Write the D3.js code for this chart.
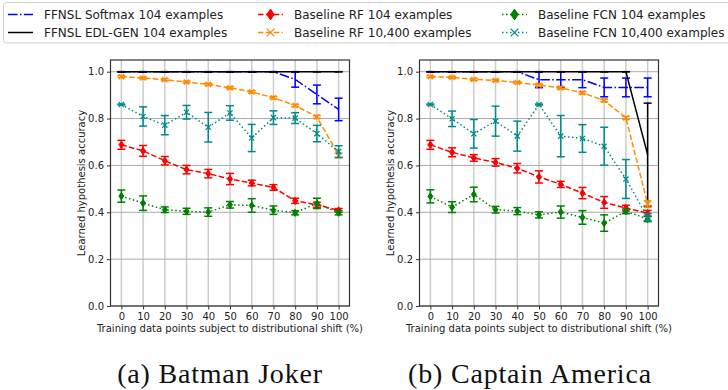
<!DOCTYPE html>
<html>
<head>
<meta charset="utf-8">
<script src="https://cdn.jsdelivr.net/npm/d3@7"></script>
<style>
  html, body { margin: 0; padding: 0; background: #fff; }
  svg { display: block; }
</style>
</head>
<body>
<svg id="chart" width="728" height="390"></svg>
<script>
// Percentage of training points affected by distributional shift
const shiftPct = [0, 10, 20, 30, 40, 50, 60, 70, 80, 90, 100];
const yTickValues = [0, 0.2, 0.4, 0.6, 0.8, 1.0];
const panelTitles = ["(a) Batman Joker", "(b) Captain America"];
const seriesNames = [
  "FFNSL Softmax 104 examples",
  "FFNSL EDL-GEN 104 examples",
  "Baseline RF 104 examples",
  "Baseline RF 10,400 examples",
  "Baseline FCN 104 examples",
  "Baseline FCN 10,400 examples"
];

// Batman Joker: mean accuracy and error per shift level
const batmanSoftmax    = [1.0, 1.0, 1.0, 1.0, 1.0, 1.0, 1.0, 1.0, 0.967, 0.903, 0.839];
const batmanSoftmaxErr = [0, 0, 0, 0, 0, 0, 0, 0, 0.033, 0.040, 0.048];
const batmanEdl        = [1.0, 1.0, 1.0, 1.0, 1.0, 1.0, 1.0, 1.0, 1.0, 1.0, 1.0];
const batmanEdlErr     = [0, 0, 0, 0, 0, 0, 0, 0, 0, 0, 0];
const batmanRf104      = [0.688, 0.662, 0.620, 0.582, 0.565, 0.542, 0.525, 0.506, 0.449, 0.432, 0.408];
const batmanRf104Err   = [0.019, 0.023, 0.018, 0.018, 0.018, 0.024, 0.012, 0.012, 0.011, 0.011, 0.008];
const batmanRf10k      = [0.979, 0.973, 0.966, 0.956, 0.946, 0.931, 0.914, 0.889, 0.856, 0.807, 0.643];
const batmanRf10kErr   = [0.004, 0.004, 0.004, 0.004, 0.004, 0.004, 0.005, 0.005, 0.005, 0.006, 0.010];
const batmanFcn104     = [0.469, 0.439, 0.411, 0.404, 0.401, 0.432, 0.429, 0.409, 0.398, 0.438, 0.398];
const batmanFcn104Err  = [0.026, 0.031, 0.012, 0.013, 0.018, 0.014, 0.029, 0.018, 0.009, 0.022, 0.009];
const batmanFcn10k     = [0.860, 0.809, 0.772, 0.827, 0.763, 0.824, 0.717, 0.804, 0.802, 0.736, 0.659];
const batmanFcn10kErr  = [0.002, 0.041, 0.041, 0.029, 0.063, 0.031, 0.058, 0.029, 0.023, 0.035, 0.025];

// Captain America: mean accuracy and error per shift level
const captainSoftmax    = [1.0, 1.0, 1.0, 1.0, 1.0, 0.966, 0.966, 0.966, 0.933, 0.933, 0.933];
const captainSoftmaxErr = [0, 0, 0, 0, 0, 0.034, 0.034, 0.034, 0.040, 0.040, 0.040];
const captainEdl        = [1.0, 1.0, 1.0, 1.0, 1.0, 1.0, 1.0, 1.0, 1.0, 1.0, 0.646];
const captainEdlErr     = [0, 0, 0, 0, 0, 0, 0, 0, 0, 0, 0.220];
const captainRf104      = [0.688, 0.656, 0.632, 0.613, 0.588, 0.551, 0.519, 0.482, 0.442, 0.418, 0.396];
const captainRf104Err   = [0.019, 0.019, 0.014, 0.016, 0.020, 0.026, 0.013, 0.024, 0.025, 0.012, 0.012];
const captainRf10k      = [0.979, 0.976, 0.967, 0.963, 0.954, 0.943, 0.931, 0.910, 0.877, 0.803, 0.435];
const captainRf10kErr   = [0.004, 0.004, 0.004, 0.004, 0.004, 0.005, 0.005, 0.005, 0.006, 0.006, 0.014];
const captainFcn104     = [0.468, 0.422, 0.476, 0.411, 0.405, 0.389, 0.401, 0.378, 0.354, 0.404, 0.371];
const captainFcn104Err  = [0.028, 0.023, 0.031, 0.014, 0.015, 0.013, 0.026, 0.029, 0.035, 0.010, 0.011];
const captainFcn10k     = [0.860, 0.799, 0.735, 0.789, 0.725, 0.860, 0.725, 0.715, 0.682, 0.542, 0.379];
const captainFcn10kErr  = [0.002, 0.033, 0.061, 0.064, 0.064, 0.002, 0.088, 0.059, 0.081, 0.083, 0.015];

// Visual style per series (same order as seriesNames)
const seriesStyles = [
  { color: "#0000ff", dash: "9.6,2.4,1.5,2.4", marker: null },
  { color: "#000000", dash: null,               marker: null },
  { color: "#ff0000", dash: "5.5,2.4",          marker: "diamond" },
  { color: "#ff8c00", dash: "5.5,2.4",          marker: "x" },
  { color: "#008000", dash: "1.5,2.5",          marker: "diamond" },
  { color: "#008b8b", dash: "1.5,2.5",          marker: "x" }
];

const panelData = [
  [[batmanSoftmax, batmanSoftmaxErr], [batmanEdl, batmanEdlErr], [batmanRf104, batmanRf104Err],
   [batmanRf10k, batmanRf10kErr], [batmanFcn104, batmanFcn104Err], [batmanFcn10k, batmanFcn10kErr]],
  [[captainSoftmax, captainSoftmaxErr], [captainEdl, captainEdlErr], [captainRf104, captainRf104Err],
   [captainRf10k, captainRf10kErr], [captainFcn104, captainFcn104Err], [captainFcn10k, captainFcn10kErr]]
];

const svg = d3.select("#chart");
const font = "'DejaVu Sans', sans-serif";

const panelLeft = [110.5, 419.5];
const plotW = 239;
const plotTop = 60, plotBottom = 306;

function drawMarker(g, type, cx, cy, color, scale) {
  const s = scale || 1;
  if (type === "diamond") {
    const h = 3.6 * s, w = 2.5 * s;
    g.append("path")
      .attr("d", `M${cx},${cy - h}L${cx + w},${cy}L${cx},${cy + h}L${cx - w},${cy}Z`)
      .attr("fill", color).attr("stroke", color).attr("stroke-width", 1);
  } else if (type === "x") {
    const r = 2.6 * s;
    g.append("path")
      .attr("d", `M${cx - r},${cy - r}L${cx + r},${cy + r}M${cx - r},${cy + r}L${cx + r},${cy - r}`)
      .attr("fill", "none").attr("stroke", color).attr("stroke-width", 1.3);
  }
}

panelData.forEach((seriesList, pi) => {
  const x0 = panelLeft[pi];
  const x = d3.scaleLinear().domain([-5, 105]).range([x0, x0 + plotW]);
  const y = d3.scaleLinear().domain([0, 1.05]).range([plotBottom, plotTop]);
  const g = svg.append("g");

  // grid
  g.append("g").selectAll("line.vg").data(shiftPct).join("line")
    .attr("x1", d => x(d)).attr("x2", d => x(d))
    .attr("y1", plotTop).attr("y2", plotBottom)
    .attr("stroke", "#cccccc").attr("stroke-width", 1.5);
  g.append("g").selectAll("line.hg").data(yTickValues).join("line")
    .attr("x1", x0).attr("x2", x0 + plotW)
    .attr("y1", d => y(d)).attr("y2", d => y(d))
    .attr("stroke", "#aaaaaa").attr("stroke-width", 1);

  // series: line, error bars with caps, then markers
  seriesList.forEach(([vals, errs], si) => {
    const st = seriesStyles[si];
    const pts = shiftPct.map((p, i) => ({ p, v: vals[i], e: errs[i] }));
    const line = d3.line().x(d => x(d.p)).y(d => y(d.v));
    g.append("path").datum(pts)
      .attr("d", line)
      .attr("fill", "none")
      .attr("stroke", st.color)
      .attr("stroke-width", 1.5)
      .attr("stroke-dasharray", st.dash);
    const eg = g.append("g").attr("stroke", st.color).attr("stroke-width", 1.5);
    pts.forEach(d => {
      const px = x(d.p);
      eg.append("line").attr("x1", px).attr("x2", px).attr("y1", y(d.v - d.e)).attr("y2", y(d.v + d.e));
      eg.append("line").attr("x1", px - 4).attr("x2", px + 4).attr("y1", y(d.v - d.e)).attr("y2", y(d.v - d.e));
      eg.append("line").attr("x1", px - 4).attr("x2", px + 4).attr("y1", y(d.v + d.e)).attr("y2", y(d.v + d.e));
    });
    if (st.marker) {
      pts.forEach(d => drawMarker(g, st.marker, x(d.p), y(d.v), st.color, 1));
    }
  });

  // frame
  g.append("rect")
    .attr("x", x0).attr("y", plotTop).attr("width", plotW).attr("height", plotBottom - plotTop)
    .attr("fill", "none").attr("stroke", "#333").attr("stroke-width", 1.2);

  // axes
  const xAxis = g.append("g").attr("transform", `translate(0,${plotBottom})`)
    .call(d3.axisBottom(x).tickValues(shiftPct).tickSize(3.5).tickPadding(3).tickFormat(d3.format("d")));
  const yAxis = g.append("g").attr("transform", `translate(${x0},0)`)
    .call(d3.axisLeft(y).tickValues(yTickValues).tickSize(3.5).tickPadding(3).tickFormat(d3.format(".1f")));
  [xAxis, yAxis].forEach(a => {
    a.select(".domain").remove();
    a.selectAll(".tick line").attr("stroke", "#333").attr("stroke-width", 1);
    a.selectAll(".tick text").attr("font-family", font).attr("font-size", 10).attr("fill", "#222");
  });

  g.append("text")
    .attr("x", x0 + plotW / 2).attr("y", 332)
    .attr("text-anchor", "middle")
    .attr("font-family", font).attr("font-size", 10).attr("fill", "#222")
    .text("Training data points subject to distributional shift (%)");
  g.append("text")
    .attr("transform", `translate(${x0 - 26},${(plotTop + plotBottom) / 2}) rotate(-90)`)
    .attr("text-anchor", "middle")
    .attr("font-family", font).attr("font-size", 10).attr("fill", "#222")
    .text("Learned hypothesis accuracy");

  svg.append("text")
    .attr("x", [220, 530][pi]).attr("y", 383)
    .attr("text-anchor", "middle")
    .attr("font-family", "'Liberation Serif', serif").attr("font-size", 28)
    .attr("letter-spacing", 0.8).attr("fill", "#111")
    .text(panelTitles[pi]);
});

// legend
const legend = svg.append("g");
legend.append("rect")
  .attr("x", 3.5).attr("y", 2.5).attr("width", 760).attr("height", 40.5).attr("rx", 3)
  .attr("fill", "#fff").attr("stroke", "#d0d0d0").attr("stroke-width", 1);
const legCols = [8, 258, 502];
const legRows = [14.5, 32.5];
seriesNames.forEach((name, i) => {
  const st = seriesStyles[i];
  const cx = legCols[Math.floor(i / 2)];
  const cy = legRows[i % 2];
  legend.append("line")
    .attr("x1", cx).attr("x2", cx + 25).attr("y1", cy).attr("y2", cy)
    .attr("stroke", st.color).attr("stroke-width", 1.5)
    .attr("stroke-dasharray", st.dash);
  if (st.marker) drawMarker(legend, st.marker, cx + 12.5, cy, st.color, 1.5);
  legend.append("text")
    .attr("x", cx + 36).attr("y", cy).attr("dy", "0.35em")
    .attr("font-family", font).attr("font-size", 12).attr("fill", "#222")
    .text(name);
});
</script>
</body>
</html>
